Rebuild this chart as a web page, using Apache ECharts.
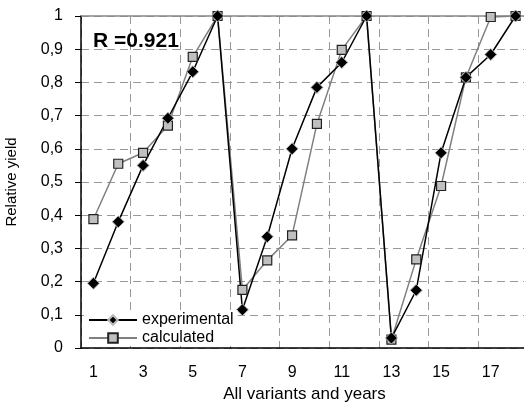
<!DOCTYPE html>
<html>
<head>
<meta charset="utf-8">
<script src="https://cdn.jsdelivr.net/npm/echarts@6/dist/echarts.min.js"></script>
<style>
  html, body { margin: 0; padding: 0; background: #fff; }
  #chart { width: 524px; height: 406px; }
</style>
</head>
<body>
<div id="chart"></div>
<script>
// 数据
var categories = ['1','2','3','4','5','6','7','8','9','10','11','12','13','14','15','16','17','18']
var experimental = [0.195, 0.38, 0.55, 0.692, 0.832, 1.0, 0.115, 0.335, 0.6, 0.785, 0.86, 1.0, 0.03, 0.174, 0.588, 0.815, 0.884, 1.0]
var calculated = [0.388, 0.555, 0.588, 0.67, 0.877, 1.0, 0.175, 0.264, 0.339, 0.675, 0.898, 1.0, 0.025, 0.267, 0.488, 0.815, 0.997, 1.0]
var rTitle = 'R =0.921'

var font = 'Liberation Sans, Arial, sans-serif'
var chart = echarts.init(document.getElementById('chart'))

var option = {
	animation: false,
	backgroundColor: '#fff',
	title: {
		text: rTitle,
		left: 93,
		top: 31,
		padding: 0,
		textStyle: { fontFamily: font, fontSize: 21, fontWeight: 'bold', color: '#000' }
	},
	legend: {
		orient: 'vertical',
		left: 84,
		top: 310,
		itemWidth: 48,
		itemHeight: 12,
		itemGap: 2,
		padding: [2, 4, 0, 4],
		backgroundColor: '#fff',
		textStyle: { fontFamily: font, fontSize: 16, color: '#000' },
		data: ['experimental', 'calculated']
	},
	grid: { left: 81, top: 16, width: 447, height: 332, outerBoundsMode: 'none' },
	xAxis: [{
		type: 'category',
		data: categories,
		name: 'All variants and years',
		nameLocation: 'middle',
		nameGap: 38,
		nameTextStyle: { fontFamily: font, fontSize: 17, color: '#000' },
		axisLine: { lineStyle: { color: '#000', width: 1.5 } },
		axisTick: { interval: 1, length: 6, lineStyle: { color: '#000' } },
		axisLabel: { interval: 1, margin: 17, fontFamily: font, fontSize: 16, color: '#000' },
		splitLine: { show: true, interval: 1, lineStyle: { color: '#999', type: [8, 5], width: 1 } }
	}, {
		// 顶部实线
		type: 'category',
		position: 'top',
		data: categories,
		axisLine: { lineStyle: { color: '#888', width: 1.5 } },
		axisTick: { show: false },
		axisLabel: { show: false }
	}],
	yAxis: {
		type: 'value',
		min: 0,
		max: 1,
		interval: 0.1,
		name: 'Relative yield',
		nameLocation: 'middle',
		nameGap: 62,
		nameTextStyle: { fontFamily: font, fontSize: 15, color: '#000' },
		axisLine: { show: true, lineStyle: { color: '#000', width: 1.5 } },
		axisTick: { show: true, length: 6, lineStyle: { color: '#000' } },
		axisLabel: {
			margin: 18,
			fontFamily: font,
			fontSize: 16,
			color: '#000',
			formatter: function(v) { return String(Math.round(v * 10) / 10).replace('.', ',') }
		},
		splitLine: { lineStyle: { color: '#999', type: [8, 5], width: 1 } }
	},
	series: [{
		name: 'calculated',
		type: 'line',
		data: calculated,
		symbol: 'rect',
		symbolSize: 9,
		lineStyle: { color: '#808080', width: 1.5 },
		itemStyle: { color: '#c0c0c0', borderColor: '#222', borderWidth: 1.2 }
	}, {
		name: 'experimental',
		type: 'line',
		data: experimental,
		symbol: 'diamond',
		symbolSize: 12,
		lineStyle: { color: '#000', width: 1.5 },
		itemStyle: { color: '#000', borderColor: '#bbb', borderWidth: 1 }
	}]
}

chart.setOption(option)
</script>
</body>
</html>
